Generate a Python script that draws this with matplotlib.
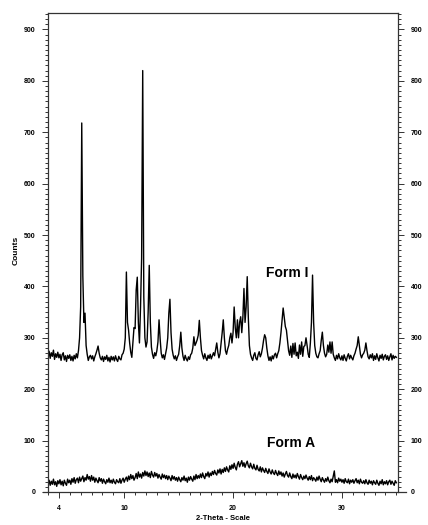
import numpy as np
import matplotlib
matplotlib.use("Agg")
import matplotlib.pyplot as plt
from matplotlib.ticker import MultipleLocator, FixedLocator

plt.rcParams['font.family'] = ['Liberation Sans', 'DejaVu Sans']

# 2-theta scan, 0.1 deg steps from 3 to 35
two_theta = np.round(np.arange(3.0, 35.05, 0.1), 1)

# counts, one row per degree
form_i = [
    268, 274, 260, 271, 264, 276, 258, 269, 262, 272,   # 3
    261, 268, 256, 267, 271, 257, 265, 254, 266, 260,   # 4
    267, 256, 264, 255, 266, 259, 269, 261, 275, 300,   # 5
    360, 718, 420, 330, 348, 285, 268, 256, 263, 266,   # 6
    259, 265, 255, 263, 269, 276, 284, 270, 261, 257,   # 7
    264, 254, 263, 258, 266, 255, 262, 253, 264, 257,   # 8
    263, 255, 265, 258, 254, 264, 259, 257, 267, 270,   # 9
    278, 300, 428, 330, 315, 290, 272, 262, 290, 320,   # 10
    318, 393, 418, 330, 290, 360, 455, 820, 380, 300,   # 11
    282, 292, 350, 441, 330, 282, 268, 260, 271, 265,   # 12
    275, 292, 335, 298, 270, 261, 267, 258, 269, 280,   # 13
    300, 348, 375, 310, 278, 266, 259, 265, 256, 263,   # 14
    268, 285, 311, 280, 264, 256, 266, 259, 255, 263,   # 15
    258, 267, 270, 280, 302, 285, 290, 296, 305, 334,   # 16
    300, 275, 266, 259, 269, 261, 256, 266, 260, 268,   # 17
    259, 265, 271, 265, 278, 290, 272, 261, 269, 290,   # 18
    310, 335, 300, 275, 268, 278, 285, 300, 309, 290,   # 19
    310, 360, 320, 300, 335, 300, 330, 341, 310, 340,   # 20
    396, 330, 360, 419, 340, 285, 268, 261, 256, 266,   # 21
    271, 260, 257, 267, 273, 263, 269, 280, 295, 306,   # 22
    300, 280, 265, 256, 263, 255, 265, 259, 267, 270,   # 23
    261, 269, 275, 290, 310, 334, 358, 340, 322, 315,   # 24
    295, 275, 266, 284, 262, 289, 268, 290, 265, 272,   # 25
    260, 286, 268, 292, 264, 283, 285, 300, 285, 268,   # 26
    262, 290, 330, 422, 330, 285, 270, 263, 261, 269,   # 27
    275, 295, 311, 285, 270, 263, 268, 286, 272, 292,   # 28
    270, 292, 268, 261, 256, 266, 259, 269, 261, 257,   # 29
    265, 256, 267, 260, 255, 264, 269, 259, 266, 261,   # 30
    257, 265, 270, 278, 285, 302, 285, 268, 261, 267,   # 31
    270, 276, 290, 275, 263, 259, 267, 261, 269, 256,   # 32
    265, 258, 269, 261, 255, 266, 260, 268, 257, 264,   # 33
    267, 258, 265, 256, 263, 269, 257, 266, 260, 264,   # 34
    262,
]

form_a = [
    18, 23, 13, 21, 15, 25, 14, 20, 11, 22,   # 3
    16, 24, 14, 21, 12, 23, 17, 13, 25, 18,   # 4
    23, 15, 26, 19, 28, 17, 24, 27, 18, 29,   # 5
    21, 26, 31, 20, 28, 23, 34, 25, 30, 21,   # 6
    32, 23, 29, 19, 27, 22, 18, 28, 21, 26,   # 7
    17, 25, 20, 16, 24, 19, 27, 18, 23, 17,   # 8
    25, 19, 16, 24, 20, 18, 26, 17, 23, 27,   # 9
    19, 25, 29, 21, 31, 24, 34, 26, 32, 23,   # 10
    28, 36, 26, 39, 29, 35, 27, 38, 31, 41,   # 11
    32, 39, 30, 37, 28, 40, 33, 29, 38, 31,   # 12
    36, 27, 34, 29, 25, 35, 28, 33, 26, 32,   # 13
    24, 31, 27, 22, 32, 25, 30, 23, 28, 21,   # 14
    29, 24, 20, 28, 23, 31, 22, 27, 19, 29,   # 15
    23, 30, 25, 21, 31, 24, 34, 26, 32, 27,   # 16
    35, 28, 37, 30, 26, 36, 31, 39, 29, 37,   # 17
    32, 40, 34, 42, 36, 33, 43, 37, 45, 35,   # 18
    44, 38, 47, 40, 49, 43, 39, 51, 44, 53,   # 19
    46, 56, 48, 43, 54, 59, 49, 55, 61, 50,   # 20
    57, 48, 55, 60, 51, 47, 56, 49, 45, 54,   # 21
    46, 43, 52, 44, 41, 49, 39, 47, 42, 38,   # 22
    46, 40, 36, 45, 39, 35, 43, 37, 34, 42,   # 23
    36, 32, 41, 34, 39, 31, 37, 29, 35, 40,   # 24
    32, 29, 37, 30, 26, 35, 28, 33, 27, 36,   # 25
    30, 25, 34, 28, 24, 31, 26, 33, 27, 23,   # 26
    30, 24, 32, 22, 28, 25, 21, 29, 23, 31,   # 27
    25, 20, 28, 23, 19, 26, 21, 29, 22, 18,   # 28
    25, 20, 30, 41, 19, 24, 18, 27, 21, 25,   # 29
    19, 24, 17, 26, 20, 18, 25, 16, 23, 19,   # 30
    24, 17, 22, 26, 18, 23, 16, 25, 19, 17,   # 31
    22, 16, 24, 18, 15, 23, 17, 21, 14, 22,   # 32
    18, 15, 23, 17, 13, 21, 16, 24, 14, 20,   # 33
    16, 22, 14, 20, 23, 15, 21, 17, 13, 22,   # 34
    18,
]

x_major = [4, 10, 20, 30]
y_major = [0, 100, 200, 300, 400, 500, 600, 700, 800, 900]

fig = plt.figure(figsize=(4.28, 5.25), dpi=100)
ax = fig.add_axes([48/428, 1-492/525, 350/428, 479/525])

ax.plot(two_theta, form_i, color='k', lw=1.0)
ax.plot(two_theta, form_a, color='k', lw=1.0)

ax.set_xlim(3, 35.15)
ax.set_ylim(0, 932)

ax.text(25.0, 426, "Form I", fontsize=10, fontweight='bold', ha='center', va='center')
ax.text(25.3, 95, "Form A", fontsize=10, fontweight='bold', ha='center', va='center')

for s in ['left', 'right', 'top', 'bottom']:
    ax.spines[s].set_color('#333333')
    ax.spines[s].set_linewidth(0.9)
ax.spines['bottom'].set_bounds(2.55, 35.9)

ax.xaxis.set_major_locator(FixedLocator(x_major))
ax.xaxis.set_minor_locator(MultipleLocator(1))
ax.yaxis.set_major_locator(FixedLocator(y_major))
ax.yaxis.set_minor_locator(MultipleLocator(10))
ax.tick_params(which='both', direction='out', color='#333333', width=0.7)
ax.tick_params(axis='y', which='both', left=True, right=True, labelleft=True, labelright=True)
ax.tick_params(which='major', length=4)
ax.tick_params(which='minor', length=2.5)
ax.tick_params(axis='x', labelsize=5, pad=5)
ax.tick_params(axis='y', labelsize=5, pad=5)
for lab in ax.get_xticklabels() + ax.get_yticklabels():
    lab.set_fontweight('bold')

fig.text(16/428, 1-250/525, "Counts", rotation=90, fontsize=6, fontweight='bold',
         ha='center', va='center')
fig.text(223/428, 1-518/525, "2-Theta - Scale", fontsize=5.5, fontweight='bold',
         ha='center', va='center')

fig.savefig("out.png", dpi=100)
